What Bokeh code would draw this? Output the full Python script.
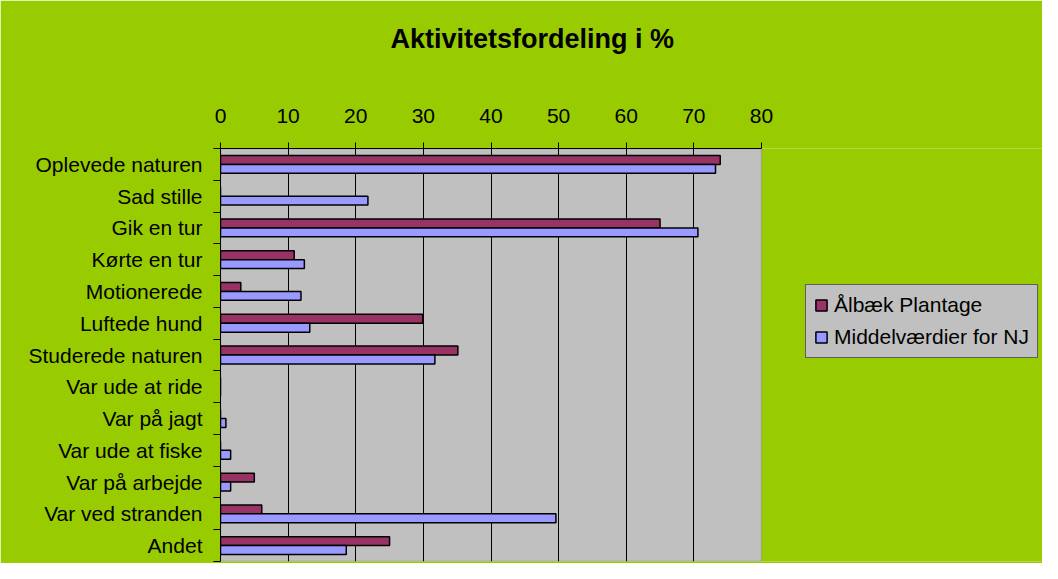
from bokeh.plotting import figure
from bokeh.models import (FixedTicker, Legend, LegendItem, ColumnDataSource,
                          Range1d, BoxAnnotation, Title)
from bokeh.embed import file_html
from bokeh.resources import INLINE

# ---- data -------------------------------------------------------------
categories = ["Oplevede naturen", "Sad stille", "Gik en tur", "Kørte en tur",
              "Motionerede", "Luftede hund", "Studerede naturen", "Var ude at ride",
              "Var på jagt", "Var ude at fiske", "Var på arbejde",
              "Var ved stranden", "Andet"]
series_names = ["Ålbæk Plantage", "Middelværdier for NJ"]
albaek = [73.9, 0.0, 65.0, 10.9, 3.0, 29.9, 35.1, 0.0, 0.0, 0.0, 5.0, 6.1, 25.0]
nj = [73.2, 21.8, 70.6, 12.4, 11.9, 13.2, 31.7, 0.0, 0.8, 1.5, 1.5, 49.6, 18.6]
x_ticks = [0, 10, 20, 30, 40, 50, 60, 70, 80]
title_text = "Aktivitetsfordeling i %"

# ---- layout helpers ---------------------------------------------------
FONT = "Liberation Sans"
GREEN = "#99CC00"
MAROON = "#993366"
LILAC = "#9999FF"
GREY = "#C0C0C0"

W, H = 1042, 563
LEFT, TOP, BOTTOM = 220, 147, 2
PLOT_W = 541                      # width of the grey plot area in px
x0, x1 = x_ticks[0], x_ticks[-1]
# the frame runs to the right edge so the legend can sit beside the plot area
x_end = x0 + (x1 - x0) * (W - LEFT) / PLOT_W

n = len(categories)
centers = [2 * (n - 1 - i) + 1 for i in range(n)]      # category centres (top first)
boundaries = list(range(0, 2 * n + 1, 2))               # category boundaries
dodge = 0.28
bar_h = 0.56

src = ColumnDataSource(dict(
    y_a=[c + dodge for c in centers],
    y_b=[c - dodge for c in centers],
    a=albaek, b=nj,
))

p = figure(width=W, height=H,
           x_range=Range1d(x0, x_end),
           y_range=Range1d(0, 2 * n),
           x_axis_location="above",
           output_backend="svg", toolbar_location=None,
           min_border_left=LEFT, min_border_right=0,
           min_border_top=TOP, min_border_bottom=BOTTOM)

p.background_fill_color = GREEN
p.border_fill_color = GREEN
p.outline_line_color = None

# grey plot area with its grey border
plot_area = BoxAnnotation(left=x0, right=x1, fill_color=GREY, fill_alpha=1,
                          line_color="#808080", line_width=2, level="image")
p.add_layout(plot_area)

ra = p.hbar(y="y_a", left=0, right="a", height=bar_h, source=src,
            fill_color=MAROON, line_color="black", line_width=1.5)
rb = p.hbar(y="y_b", left=0, right="b", height=bar_h, source=src,
            fill_color=LILAC, line_color="black", line_width=1.5)

# ---- x axis (on top) --------------------------------------------------
xa = p.xaxis[0]
xa.ticker = FixedTicker(ticks=x_ticks)
xa.bounds = (x0, x1)
xa.major_tick_out = 6
xa.major_tick_in = 0
xa.minor_tick_line_color = None
xa.major_tick_line_color = "black"
xa.axis_line_color = "black"
xa.major_label_standoff = 20
xa.major_label_text_font = FONT
xa.major_label_text_font_size = "21px"
xa.major_label_text_color = "black"

# ---- y axis (categories) ---------------------------------------------
ya = p.yaxis[0]
ya.ticker = FixedTicker(ticks=centers, minor_ticks=boundaries)
ya.major_label_overrides = {c: name for c, name in zip(centers, categories)}
ya.major_tick_out = 7
ya.major_tick_in = 0
ya.major_tick_line_color = None
ya.minor_tick_out = 7
ya.minor_tick_in = 0
ya.minor_tick_line_color = "black"
ya.axis_line_color = "black"
ya.major_label_standoff = 11
ya.major_label_text_font = FONT
ya.major_label_text_font_size = "21px"
ya.major_label_text_color = "black"

# ---- grid -------------------------------------------------------------
p.xgrid.ticker = FixedTicker(ticks=x_ticks[1:-1])
p.xgrid.grid_line_color = "black"
p.xgrid.grid_line_width = 1
p.ygrid.grid_line_color = None

# ---- spacer between axis and title, then the title --------------------
spacer = Title(text=" ", text_font_size="10px", standoff=18)
p.add_layout(spacer, "above")

p.title.text = title_text
p.title.align = "left"
p.title.offset = 170
p.title.standoff = 42
p.title.text_font = FONT
p.title.text_font_size = "27px"
p.title.text_font_style = "bold"
p.title.text_color = "black"

# ---- legend -----------------------------------------------------------
legend = Legend(items=[LegendItem(label=series_names[0], renderers=[ra]),
                       LegendItem(label=series_names[1], renderers=[rb])],
                location=(585, 203))
legend.background_fill_color = GREY
legend.background_fill_alpha = 1
legend.border_line_color = "black"
legend.border_line_width = 1
legend.label_text_font = FONT
legend.label_text_font_size = "21px"
legend.label_text_color = "black"
legend.glyph_width = 14
legend.glyph_height = 14
legend.label_standoff = 6
legend.padding = 8
legend.spacing = 8
legend.margin = 0
p.add_layout(legend, "center")

open("out.html", "w").write(file_html(p, INLINE))
